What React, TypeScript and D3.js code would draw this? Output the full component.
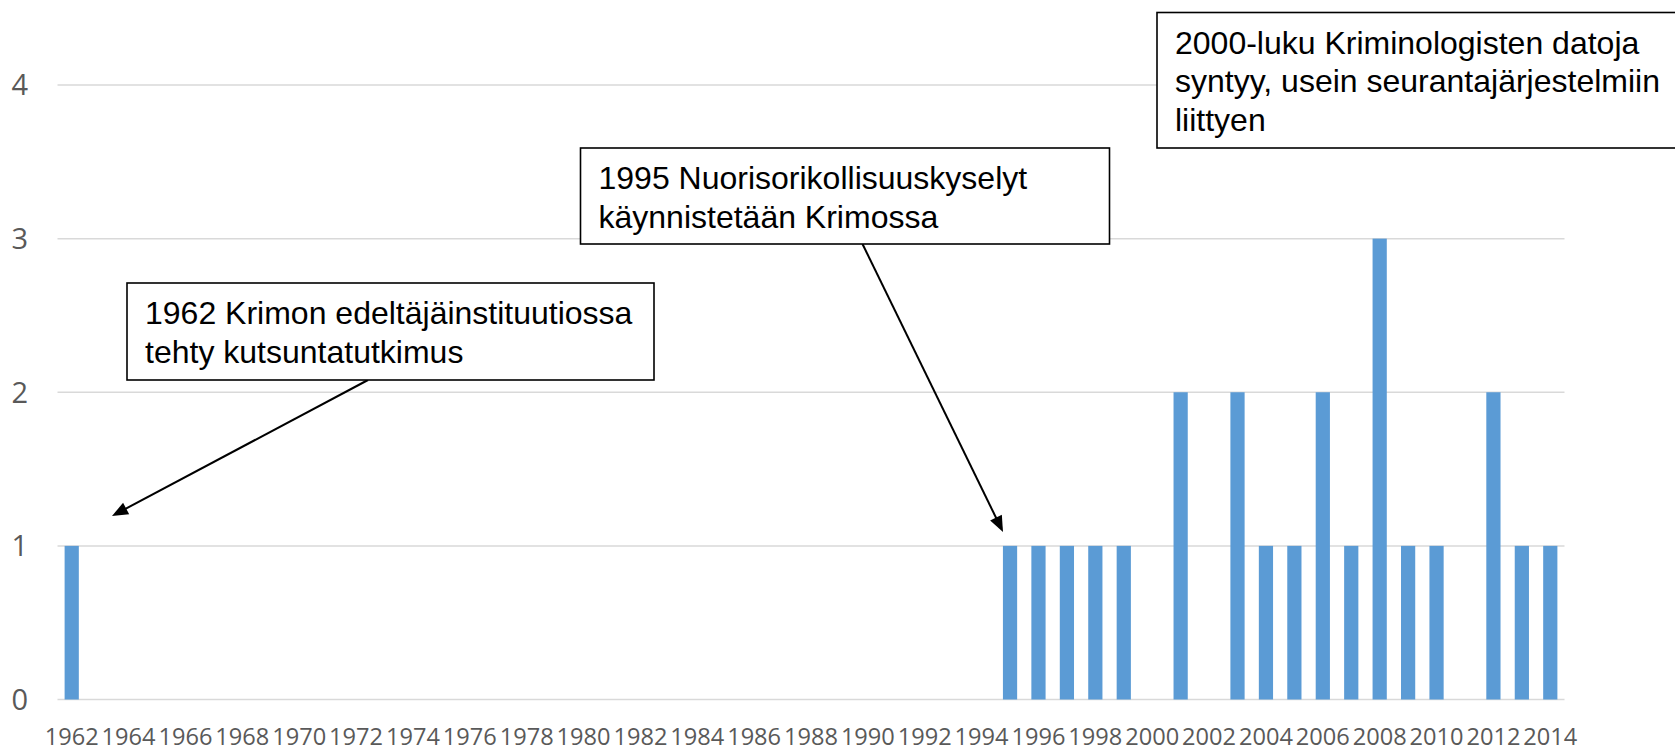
import React from 'react';
import * as d3 from 'd3';

// vuodet 1962-2014 ja aineistojen määrä per vuosi
const years = d3.range(1962, 2015).map(String);
const counts = [
  1, 0, 0, 0, 0, 0, 0, 0, 0, 0, // 1962-1971
  0, 0, 0, 0, 0, 0, 0, 0, 0, 0, // 1972-1981
  0, 0, 0, 0, 0, 0, 0, 0, 0, 0, // 1982-1991
  0, 0, 0, 1, 1, 1, 1, 1, 0, 2, // 1992-2001
  0, 2, 1, 1, 2, 1, 3, 1, 1, 0, // 2002-2011
  2, 1, 1, // 2012-2014
];
const yTicks = [0, 1, 2, 3, 4];
const xTickLabels = years.filter((y, i) => i % 2 === 0);

const note1962 = ['1962 Krimon edeltäjäinstituutiossa', 'tehty kutsuntatutkimus'];
const note1995 = ['1995 Nuorisorikollisuuskyselyt', 'käynnistetään Krimossa'];
const note2000 = ['2000-luku Kriminologisten datoja', 'syntyy, usein seurantajärjestelmiin', 'liittyen'];

const W = 1675;
const H = 748;
const margin = { top: 85, right: 110.5, bottom: 48.5, left: 57.5 };

function arrowHead(x1: number, y1: number, x2: number, y2: number, len = 16, half = 6.5) {
  const a = Math.atan2(y2 - y1, x2 - x1);
  const bx = x2 - len * Math.cos(a);
  const by = y2 - len * Math.sin(a);
  const px = -Math.sin(a) * half;
  const py = Math.cos(a) * half;
  return `M${x2},${y2}L${bx + px},${by + py}L${bx - px},${by - py}Z`;
}

function Callout({ box, lines, arrow }: any) {
  return (
    <g>
      {arrow && (
        <g>
          <line
            x1={arrow[0]}
            y1={arrow[1]}
            x2={arrow[2] - (arrow[2] - arrow[0]) * 0.02}
            y2={arrow[3] - (arrow[3] - arrow[1]) * 0.02}
            stroke="#000"
            strokeWidth={2}
          />
          <path d={arrowHead(arrow[0], arrow[1], arrow[2], arrow[3])} fill="#000" />
        </g>
      )}
      <rect x={box.x} y={box.y} width={box.w} height={box.h} fill="#fff" stroke="#000" strokeWidth={1.6} />
      {lines.map((t: string, i: number) => (
        <text
          key={i}
          x={box.x + 18}
          y={box.y + 41 + i * 38.5}
          fontFamily="'Liberation Sans', Arial, sans-serif"
          fontSize={32}
          fill="#000"
        >
          {t}
        </text>
      ))}
    </g>
  );
}

export default function App() {
  const innerW = W - margin.left - margin.right;
  const innerH = H - margin.top - margin.bottom;

  const x = d3.scaleBand().domain(years).range([0, innerW]).paddingInner(0.5).paddingOuter(0.25);
  const y = d3.scaleLinear().domain([0, 4]).range([innerH, 0]);

  return (
    <svg
      width={W}
      height={H}
      style={{ position: 'absolute', left: 0, top: 0, background: '#fff' }}
    >
      <g transform={`translate(${margin.left},${margin.top})`}>
        {yTicks.map((t) => (
          <g key={t}>
            <line x1={0} x2={innerW} y1={y(t)} y2={y(t)} stroke="#d9d9d9" strokeWidth={1.5} />
            <text
              x={28 - margin.left}
              y={y(t)}
              dy="0.36em"
              textAnchor="end"
              fontFamily="'Open Sans', sans-serif"
              fontSize={29}
              fill="#595959"
            >
              {t}
            </text>
          </g>
        ))}
        {years.map((yr, i) =>
          counts[i] > 0 ? (
            <rect
              key={yr}
              x={x(yr)}
              y={y(counts[i])}
              width={x.bandwidth()}
              height={innerH - y(counts[i])}
              fill="#5b9bd5"
            />
          ) : null
        )}
        {xTickLabels.map((yr) => (
          <text
            key={yr}
            x={(x(yr) as number) + x.bandwidth() / 2}
            y={innerH + 45.5}
            textAnchor="middle"
            fontFamily="'Open Sans', sans-serif"
            fontSize={23.6}
            fill="#595959"
          >
            {yr}
          </text>
        ))}
      </g>
      <Callout
        box={{ x: 127, y: 283, w: 527, h: 97 }}
        lines={note1962}
        arrow={[368, 380, 112, 516]}
      />
      <Callout
        box={{ x: 580.5, y: 148, w: 529, h: 96 }}
        lines={note1995}
        arrow={[862.5, 244, 1003, 532]}
      />
      <Callout box={{ x: 1157, y: 12.5, w: 540, h: 135.5 }} lines={note2000} />
    </svg>
  );
}
